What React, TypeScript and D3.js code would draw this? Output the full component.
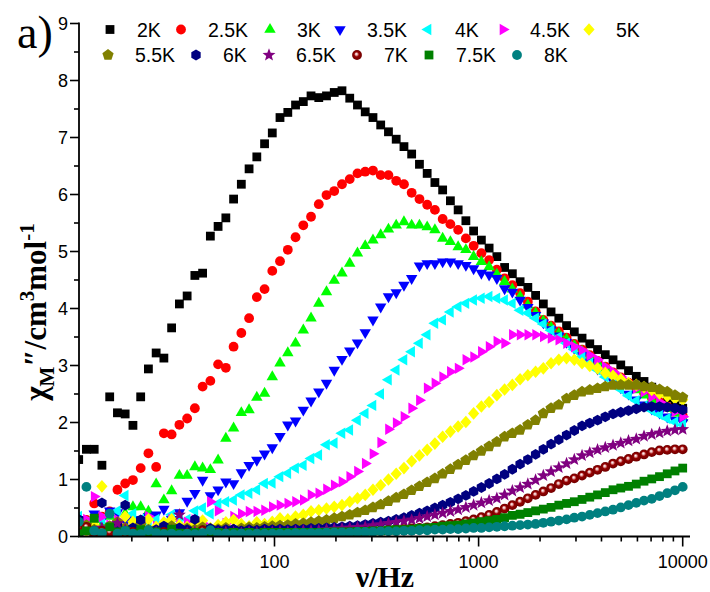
import React from 'react';
import * as d3 from 'd3';

// ---------- data ----------
const freq = [
  10.98, 11.98, 13.08, 14.27, 15.58, 17.0, 18.55, 20.25, 22.1, 24.11,
  26.31, 28.71, 31.33, 34.2, 37.32, 40.72, 44.44, 48.5, 52.92, 57.76,
  63.03, 68.78, 75.07, 81.92, 89.4, 97.54, 106.4, 116.2, 126.8, 138.4,
  151.0, 164.8, 179.8, 196.2, 214.1, 233.7, 255.0, 278.3, 303.7, 331.4,
  361.7, 394.7, 430.8, 469.9, 513.1, 559.8, 610.8, 666.6, 727.4, 793.9,
  866.3, 945.4, 1031.8, 1125.9, 1228.8, 1340.9, 1463.3, 1597.0, 1742.7, 1902.0,
  2075.6, 2264.6, 2471.7, 2697.4, 2943.9, 3212.5, 3505.5, 3825.9, 4175.2, 4556.9,
  4972.6, 5426.3, 5922.3, 6462.7, 7053.5, 7696.9, 8398.8, 9165.8, 10000,
];

const temps = ['2K', '2.5K', '3K', '3.5K', '4K', '4.5K', '5K', '5.5K', '6K', '6.5K', '7K', '7.5K', '8K'];

const chi2K = [
  1.35, 1.53, 1.53, 1.25, 2.45, 2.17, 2.15, 1.95, 2.45, 2.94,
  3.22, 3.13, 3.66, 4.08, 4.22, 4.58, 4.62, 5.27, 5.44, 5.59,
  5.92, 6.18, 6.45, 6.66, 6.89, 7.08, 7.35, 7.44, 7.57, 7.63,
  7.73, 7.70, 7.73, 7.79, 7.82, 7.69, 7.57, 7.45, 7.35, 7.22,
  7.10, 6.97, 6.84, 6.71, 6.53, 6.37, 6.21, 6.08, 5.89, 5.73,
  5.54, 5.36, 5.20, 5.06, 4.91, 4.72, 4.61, 4.47, 4.37, 4.23,
  4.08, 3.94, 3.83, 3.70, 3.59, 3.48, 3.38, 3.28, 3.19, 3.10,
  3.01, 2.91, 2.81, 2.72, 2.62, 2.53, 2.43, 2.34, 2.25,
];
const chi2_5K = [
  0.20, 0.29, 0.58, 0.35, 0.44, 0.82, 0.93, 0.99, 1.20, 1.46,
  1.22, 1.81, 1.79, 1.96, 2.07, 2.25, 2.63, 2.73, 3.02, 2.96,
  3.33, 3.57, 3.83, 4.20, 4.34, 4.66, 4.83, 5.03, 5.25, 5.46,
  5.61, 5.83, 5.99, 6.06, 6.18, 6.27, 6.37, 6.40, 6.42, 6.34,
  6.34, 6.24, 6.18, 6.03, 5.92, 5.82, 5.73, 5.57, 5.48, 5.38,
  5.23, 5.10, 4.97, 4.85, 4.68, 4.53, 4.41, 4.27, 4.12, 3.95,
  3.80, 3.70, 3.60, 3.49, 3.38, 3.28, 3.18, 3.08, 2.98, 2.88,
  2.79, 2.70, 2.61, 2.52, 2.44, 2.36, 2.28, 2.20, 2.12,
];
const chi3K = [
  0.25, 0.15, 0.30, 0.20, 0.35, 0.25, 0.40, 0.52, 0.52, 0.44,
  0.92, 0.64, 0.80, 1.07, 1.07, 1.22, 1.20, 1.17, 1.34, 1.72,
  1.90, 2.17, 2.22, 2.44, 2.51, 2.80, 3.04, 3.22, 3.39, 3.62,
  3.83, 4.09, 4.29, 4.49, 4.62, 4.79, 4.97, 5.10, 5.20, 5.29,
  5.39, 5.46, 5.52, 5.46, 5.46, 5.43, 5.38, 5.23, 5.17, 5.08,
  5.03, 4.91, 4.82, 4.73, 4.60, 4.47, 4.34, 4.21, 4.06, 3.92,
  3.78, 3.67, 3.56, 3.46, 3.35, 3.25, 3.15, 3.05, 2.95, 2.85,
  2.76, 2.66, 2.57, 2.48, 2.40, 2.32, 2.24, 2.16, 2.08,
];
const chi3_5K = [
  0.30, 0.15, 0.40, 0.30, 0.45, 0.42, 0.25, 0.30, 0.20, 0.35,
  0.38, 0.48, 0.30, 0.42, 0.62, 0.76, 0.99, 0.72, 0.82, 0.96,
  0.93, 1.12, 1.25, 1.34, 1.45, 1.56, 1.76, 1.96, 2.03, 2.22,
  2.38, 2.54, 2.69, 2.92, 3.11, 3.26, 3.40, 3.58, 3.80, 4.03,
  4.21, 4.28, 4.41, 4.53, 4.75, 4.79, 4.79, 4.82, 4.82, 4.79,
  4.76, 4.70, 4.62, 4.59, 4.53, 4.35, 4.29, 4.15, 4.02, 3.88,
  3.75, 3.63, 3.52, 3.41, 3.30, 3.18, 3.06, 2.94, 2.83, 2.72,
  2.61, 2.50, 2.40, 2.31, 2.24, 2.17, 2.10, 2.04, 2.00,
];
const chi4K = [
  0.35, 0.25, 0.20, 0.30, 0.15, 0.45, 0.72, 0.40, 0.30, 0.25,
  0.30, 0.22, 0.38, 0.28, 0.30, 0.45, 0.50, 0.40, 0.58, 0.61,
  0.64, 0.73, 0.76, 0.82, 0.93, 0.94, 1.05, 1.11, 1.20, 1.25,
  1.37, 1.43, 1.61, 1.64, 1.81, 1.87, 2.04, 2.16, 2.30, 2.50,
  2.75, 2.92, 3.10, 3.24, 3.39, 3.54, 3.74, 3.80, 3.94, 4.03,
  4.09, 4.15, 4.18, 4.21, 4.18, 4.15, 4.09, 3.97, 3.92, 3.83,
  3.73, 3.62, 3.50, 3.39, 3.28, 3.16, 3.04, 2.92, 2.80, 2.69,
  2.58, 2.47, 2.38, 2.29, 2.21, 2.14, 2.07, 2.01, 1.96,
];
const chi4_5K = [
  0.15, 0.30, 0.70, 0.35, 0.20, 0.29, 0.15, 0.10, 0.25, 0.35,
  0.18, 0.10, 0.30, 0.20, 0.25, 0.29, 0.23, 0.61, 0.45, 0.23,
  0.35, 0.40, 0.44, 0.44, 0.46, 0.52, 0.55, 0.58, 0.61, 0.64,
  0.73, 0.76, 0.83, 0.90, 0.96, 1.05, 1.14, 1.28, 1.45, 1.65,
  1.88, 1.99, 2.10, 2.25, 2.39, 2.60, 2.69, 2.80, 2.89, 2.95,
  3.10, 3.15, 3.24, 3.33, 3.42, 3.39, 3.54, 3.54, 3.54, 3.54,
  3.51, 3.48, 3.45, 3.39, 3.33, 3.27, 3.18, 3.10, 2.98, 2.89,
  2.80, 2.69, 2.60, 2.54, 2.45, 2.36, 2.28, 2.19, 2.10,
];
const chi5K = [
  0.12, 0.10, 0.20, 0.88, 0.15, 0.22, 0.35, 0.26, 0.18, 0.30,
  0.17, 0.25, 0.30, 0.20, 0.17, 0.22, 0.28, 0.15, 0.20, 0.25,
  0.29, 0.22, 0.18, 0.25, 0.22, 0.26, 0.32, 0.30, 0.35, 0.38,
  0.44, 0.46, 0.49, 0.52, 0.55, 0.61, 0.67, 0.73, 0.82, 0.90,
  1.00, 1.10, 1.20, 1.32, 1.42, 1.52, 1.63, 1.75, 1.84, 1.93,
  2.01, 2.16, 2.28, 2.36, 2.48, 2.58, 2.66, 2.76, 2.83, 2.89,
  2.95, 3.04, 3.10, 3.13, 3.10, 3.04, 2.99, 2.95, 2.87, 2.82,
  2.76, 2.69, 2.66, 2.62, 2.57, 2.51, 2.46, 2.42, 2.40,
];
const chi5_5K = [
  0.10, 0.20, 0.12, 0.08, 0.18, 0.25, 0.15, 0.10, 0.20, 0.12,
  0.08, 0.15, 0.18, 0.10, 0.14, 0.12, 0.16, 0.10, 0.13, 0.15,
  0.12, 0.14, 0.16, 0.15, 0.17, 0.18, 0.19, 0.20, 0.22, 0.23,
  0.25, 0.27, 0.29, 0.32, 0.35, 0.38, 0.42, 0.46, 0.51, 0.56,
  0.62, 0.68, 0.74, 0.81, 0.88, 0.95, 1.02, 1.10, 1.18, 1.26,
  1.34, 1.42, 1.50, 1.58, 1.66, 1.75, 1.81, 1.87, 1.96, 2.04,
  2.16, 2.25, 2.31, 2.42, 2.48, 2.54, 2.57, 2.60, 2.63, 2.66,
  2.66, 2.66, 2.66, 2.63, 2.62, 2.58, 2.54, 2.48, 2.44,
];
const chi6K = [
  0.30, 0.15, 0.10, 0.59, 0.12, 0.20, 0.55, 0.15, 0.29, 0.10,
  0.12, 0.18, 0.08, 0.15, 0.12, 0.30, 0.10, 0.14, 0.11, 0.12,
  0.13, 0.10, 0.12, 0.11, 0.13, 0.12, 0.13, 0.12, 0.13, 0.13,
  0.14, 0.14, 0.15, 0.16, 0.17, 0.18, 0.19, 0.21, 0.23, 0.25,
  0.27, 0.30, 0.33, 0.37, 0.41, 0.45, 0.50, 0.55, 0.60, 0.66,
  0.72, 0.79, 0.86, 0.93, 1.01, 1.09, 1.18, 1.27, 1.35, 1.44,
  1.53, 1.62, 1.70, 1.78, 1.86, 1.94, 1.99, 2.04, 2.10, 2.15,
  2.18, 2.21, 2.24, 2.27, 2.28, 2.28, 2.27, 2.25, 2.22,
];
const chi6_5K = [
  0.05, 0.10, 0.02, 0.15, 0.08, 0.23, 0.12, 0.05, 0.10, 0.06,
  0.08, 0.04, 0.10, 0.38, 0.06, 0.08, 0.05, 0.07, 0.06, 0.08,
  0.07, 0.06, 0.08, 0.07, 0.08, 0.08, 0.09, 0.08, 0.09, 0.10,
  0.10, 0.11, 0.12, 0.13, 0.14, 0.15, 0.16, 0.17, 0.19, 0.21,
  0.23, 0.25, 0.27, 0.29, 0.32, 0.35, 0.38, 0.41, 0.44, 0.47,
  0.51, 0.55, 0.59, 0.63, 0.67, 0.73, 0.80, 0.86, 0.92, 0.99,
  1.07, 1.14, 1.21, 1.28, 1.35, 1.42, 1.47, 1.52, 1.56, 1.60,
  1.64, 1.68, 1.71, 1.76, 1.79, 1.82, 1.85, 1.87, 1.88,
];
const chi7K = [
  0.15, 0.17, 0.05, 0.10, 0.08, 0.06, 0.04, 0.08, 0.05, 0.03,
  0.06, 0.08, 0.05, 0.04, 0.06, 0.03, 0.11, 0.05, 0.04, 0.05,
  0.04, 0.05, 0.04, 0.05, 0.05, 0.05, 0.05, 0.06, 0.06, 0.06,
  0.06, 0.06, 0.07, 0.07, 0.07, 0.08, 0.08, 0.09, 0.09, 0.10,
  0.11, 0.12, 0.13, 0.14, 0.15, 0.16, 0.18, 0.20, 0.22, 0.24,
  0.27, 0.30, 0.34, 0.38, 0.43, 0.49, 0.55, 0.61, 0.67, 0.73,
  0.79, 0.85, 0.92, 0.98, 1.02, 1.07, 1.12, 1.17, 1.22, 1.28,
  1.32, 1.36, 1.40, 1.44, 1.48, 1.51, 1.52, 1.53, 1.53,
];
const chi7_5K = [
  0.05, 0.10, 0.32, 0.06, 0.17, 0.08, 0.10, 0.05, 0.12, 0.06,
  0.08, 0.05, 0.13, 0.06, 0.05, 0.07, 0.06, 0.05, 0.07, 0.06,
  0.07, 0.06, 0.07, 0.06, 0.07, 0.07, 0.07, 0.07, 0.07, 0.07,
  0.07, 0.07, 0.07, 0.08, 0.08, 0.08, 0.09, 0.09, 0.10, 0.10,
  0.11, 0.12, 0.12, 0.13, 0.14, 0.15, 0.16, 0.18, 0.19, 0.20,
  0.22, 0.24, 0.26, 0.28, 0.30, 0.33, 0.37, 0.39, 0.42, 0.45,
  0.48, 0.51, 0.55, 0.58, 0.61, 0.65, 0.69, 0.73, 0.77, 0.82,
  0.85, 0.88, 0.92, 0.97, 1.01, 1.05, 1.10, 1.15, 1.20,
];
const chi8K = [
  0.26, 0.87, 0.10, 0.06, 0.40, 0.05, 0.10, 0.05, 0.04, 0.11,
  0.06, 0.04, 0.05, 0.03, 0.05, 0.04, 0.06, 0.11, 0.04, 0.05,
  0.04, 0.05, 0.04, 0.05, 0.05, 0.05, 0.05, 0.05, 0.06, 0.06,
  0.06, 0.06, 0.07, 0.07, 0.07, 0.07, 0.08, 0.08, 0.08, 0.09,
  0.09, 0.09, 0.10, 0.10, 0.11, 0.11, 0.12, 0.12, 0.13, 0.13,
  0.14, 0.15, 0.15, 0.16, 0.17, 0.18, 0.19, 0.20, 0.21, 0.22,
  0.24, 0.26, 0.28, 0.30, 0.33, 0.35, 0.38, 0.41, 0.44, 0.47,
  0.51, 0.55, 0.59, 0.63, 0.66, 0.71, 0.76, 0.81, 0.87,
];

const seriesValues = [chi2K, chi2_5K, chi3K, chi3_5K, chi4K, chi4_5K, chi5K, chi5_5K, chi6K, chi6_5K, chi7K, chi7_5K, chi8K];

const yTickValues = [0, 1, 2, 3, 4, 5, 6, 7, 8, 9];
const xTickValues = [100, 1000, 10000];

// ---------- styles ----------
const colors = ['#000000', '#FF0000', '#00FF00', '#0000FF', '#00FFFF', '#FF00FF', '#FFFF00', '#808000', '#000080', '#800080', '#800000', '#008000', '#008080'];
const shapes = ['square', 'circle', 'triUp', 'triDown', 'triLeft', 'triRight', 'diamond', 'pentagon', 'hexagon', 'star', 'sphere', 'square', 'circle'];

// legend layout (marker x positions per row)
const legendRow1X = [110, 181, 270, 340, 428, 503, 589];
const legendRow2X = [108, 196, 269, 357, 429, 517];

const W = 710;
const H = 592;
const left = 79;
const right = 690;
const top = 22;
const bottom = 536.5;

const decade = 204.1;
const x100 = 274.5;
const xMinLog = 2 - (x100 - left) / decade;
const xMaxLog = 2 + (right - x100) / decade;

const xScale = d3.scaleLog().domain([Math.pow(10, xMinLog), Math.pow(10, xMaxLog)]).range([left, right]);
const yScale = d3.scaleLinear().domain([0, 9]).range([bottom, 23.5]);

function polygon(n: number, r: number, startDeg: number) {
  const pts: string[] = [];
  for (let k = 0; k < n; k++) {
    const a = ((startDeg + (k * 360) / n) * Math.PI) / 180;
    pts.push(`${(r * Math.cos(a)).toFixed(2)},${(r * Math.sin(a)).toFixed(2)}`);
  }
  return 'M' + pts.join('L') + 'Z';
}
function starPath(ro: number, ri: number) {
  const pts: string[] = [];
  for (let k = 0; k < 10; k++) {
    const r = k % 2 === 0 ? ro : ri;
    const a = ((-90 + k * 36) * Math.PI) / 180;
    pts.push(`${(r * Math.cos(a)).toFixed(2)},${(r * Math.sin(a)).toFixed(2)}`);
  }
  return 'M' + pts.join('L') + 'Z';
}

const shapePaths: Record<string, string> = {
  square: 'M-4.4,-4.4H4.4V4.4H-4.4Z',
  triUp: polygon(3, 6.6, -90),
  triDown: polygon(3, 6.6, 90),
  triLeft: polygon(3, 6.6, 180),
  triRight: polygon(3, 6.6, 0),
  diamond: 'M0,-6.3L5.6,0L0,6.3L-5.6,0Z',
  pentagon: polygon(5, 5.9, -90),
  hexagon: polygon(6, 5.4, -90),
  star: starPath(6.8, 2.9),
};

function Marker({ shape, color, x, y }: { shape: string; color: string; x: number; y: number }) {
  if (shape === 'circle') return <circle cx={x} cy={y} r={4.9} fill={color} />;
  if (shape === 'sphere') return <circle cx={x} cy={y} r={4.9} fill="url(#sphereGrad)" />;
  return <path d={shapePaths[shape]} transform={`translate(${x.toFixed(2)},${y.toFixed(2)})`} fill={color} />;
}

const sansFont = "'Liberation Sans', Arial, Helvetica, sans-serif";
const serifFont = "'Liberation Serif', 'Times New Roman', Times, serif";

export default function App() {
  const minorY = d3.range(0.5, 9, 1);
  const minorX: number[] = [];
  [10, 100, 1000].forEach((b) => {
    for (let k = 2; k <= 9; k++) {
      const v = b * k;
      if (xScale(v) >= left && xScale(v) <= right) minorX.push(v);
    }
  });

  return (
    <svg width={W} height={H} style={{ position: 'absolute', left: 0, top: 0, background: '#fff' }} xmlns="http://www.w3.org/2000/svg">
      <defs>
        <clipPath id="plotClip">
          <rect x={left} y={0} width={right - left + 8} height={bottom} />
        </clipPath>
        <radialGradient id="sphereGrad" cx="0.5" cy="0.5" r="0.5" fx="0.42" fy="0.38">
          <stop offset="0%" stopColor="#ffffff" />
          <stop offset="22%" stopColor="#e8b0b0" />
          <stop offset="50%" stopColor="#940000" />
          <stop offset="100%" stopColor="#700000" />
        </radialGradient>
      </defs>
      <rect x={0} y={0} width={W} height={H} fill="#fff" />

      {/* data */}
      <g clipPath="url(#plotClip)">
        {seriesValues.map((vals, si) => (
          <g key={temps[si]}>
            {vals.map((v, i) => (
              <Marker key={i} shape={shapes[si]} color={colors[si]} x={xScale(freq[i])} y={yScale(v)} />
            ))}
          </g>
        ))}
      </g>

      {/* y axis */}
      <line x1={left} x2={left} y1={yScale(9) - 1} y2={bottom} stroke="#000" strokeWidth={1.8} />
      {yTickValues.map((t) => (
        <g key={'yt' + t}>
          <line x1={left - 9} x2={left} y1={yScale(t)} y2={yScale(t)} stroke="#000" strokeWidth={1.6} />
          <text x={left - 11} y={yScale(t) + 6.5} textAnchor="end" fontFamily={sansFont} fontSize={18} fill="#000">
            {t}
          </text>
        </g>
      ))}
      {minorY.map((t) => (
        <line key={'ym' + t} x1={left - 5} x2={left} y1={yScale(t)} y2={yScale(t)} stroke="#000" strokeWidth={1.6} />
      ))}

      {/* x axis */}
      <line x1={left - 1} x2={right} y1={bottom} y2={bottom} stroke="#000" strokeWidth={1.8} />
      {xTickValues.map((t) => (
        <g key={'xt' + t}>
          <line x1={xScale(t)} x2={xScale(t)} y1={bottom} y2={bottom + 10} stroke="#000" strokeWidth={1.6} />
          <text x={xScale(t)} y={bottom + 31} textAnchor="middle" fontFamily={sansFont} fontSize={18} fill="#000">
            {t}
          </text>
        </g>
      ))}
      {minorX.map((t) => (
        <line key={'xm' + t} x1={xScale(t)} x2={xScale(t)} y1={bottom} y2={bottom + 5} stroke="#000" strokeWidth={1.6} />
      ))}

      {/* axis titles */}
      <text x={385} y={587} textAnchor="middle" fontFamily={serifFont} fontWeight="bold" fontSize={30} fill="#000">
        ν/Hz
      </text>
      <text
        transform="translate(46,312) rotate(-90)"
        textAnchor="middle"
        fontFamily={serifFont}
        fontWeight="bold"
        fontSize={31}
        fill="#000"
      >
        <tspan>χ</tspan>
        <tspan fontSize={21} dy={8}>M</tspan>
        <tspan dy={-8}>″/cm</tspan>
        <tspan fontSize={21} dy={-12}>3</tspan>
        <tspan dy={12}>mol</tspan>
        <tspan fontSize={21} dy={-12}>-1</tspan>
      </text>

      {/* panel label */}
      <text x={17} y={48} fontFamily={serifFont} fontSize={46} fill="#000">
        a)
      </text>

      {/* legend */}
      {temps.map((t, si) => {
        const row = si < 7 ? 0 : 1;
        const mx = row === 0 ? legendRow1X[si] : legendRow2X[si - 7];
        const my = row === 0 ? 29.5 : 55;
        return (
          <g key={'lg' + t}>
            <Marker shape={shapes[si]} color={colors[si]} x={mx} y={my} />
            <text x={mx + 27} y={my + 7} fontFamily={sansFont} fontSize={19.5} fill="#000">
              {t}
            </text>
          </g>
        );
      })}
    </svg>
  );
}
